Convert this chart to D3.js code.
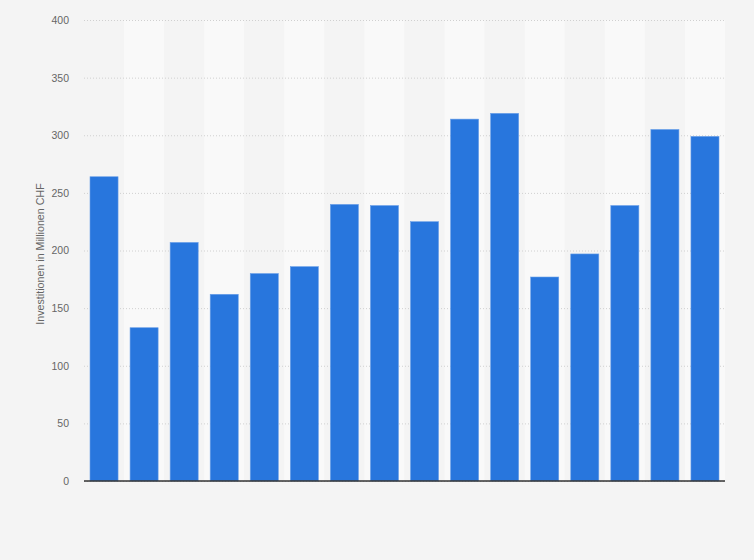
<!DOCTYPE html>
<html>
<head>
<meta charset="utf-8">
<script src="https://cdn.jsdelivr.net/npm/d3@7"></script>
<style>
    html, body { margin: 0; padding: 0; background: #f4f4f4; }
    text { font-family: "Liberation Sans", Arial, sans-serif; }
</style>
</head>
<body>
<svg id="chart" width="754" height="560"></svg>
<script>

    // Data
    var categories = ["1", "2", "3", "4", "5", "6", "7", "8", "9", "10", "11", "12", "13", "14", "15", "16"];
    var values = [264, 133, 207, 162, 180, 186, 240, 239, 225, 314, 319, 177, 197, 239, 305, 299];
    var yTicks = [0, 50, 100, 150, 200, 250, 300, 350, 400];
    var yTitle = "Investitionen in Millionen CHF";

    // Dimensions
    var width = 754;
    var height = 560;
    var margin = { top: 20, right: 29, bottom: 79, left: 84 };

    var svg = d3.select("#chart");

    svg.append("rect")
        .attr("width", width)
        .attr("height", height)
        .attr("fill", "#f4f4f4");

    var x = d3.scaleBand()
        .domain(categories)
        .range([margin.left, width - margin.right])
        .paddingInner(0.3)
        .paddingOuter(0.15);

    var y = d3.scaleLinear()
        .domain([0, 400])
        .range([height - margin.bottom, margin.top]);

    // Alternating column stripes
    svg.append("g")
        .attr("class", "stripes")
        .selectAll("rect")
        .data(categories)
        .enter()
        .append("rect")
        .attr("x", function(d) { return x(d) - x.step() * x.paddingOuter(); })
        .attr("y", y(400))
        .attr("width", x.step())
        .attr("height", y(0) - y(400))
        .attr("fill", function(d, i) {
            return i % 2 === 1 ? "#f9f9f9" : "#f4f4f4";
        });

    // Grid + tick labels
    var yAxis = svg.append("g")
        .attr("class", "y-axis")
        .attr("transform", "translate(" + margin.left + ",0)")
        .call(d3.axisLeft(y)
            .tickValues(yTicks)
            .tickSize(-(width - margin.left - margin.right))
            .tickPadding(15));

    yAxis.select(".domain").remove();
    yAxis.selectAll(".tick line")
        .attr("stroke", "#d0d0d0")
        .attr("stroke-dasharray", "1,2");
    yAxis.selectAll(".tick text")
        .attr("fill", "#666")
        .style("font-size", "10.5px");

    // Bars
    svg.append("g")
        .attr("class", "bars")
        .selectAll("rect")
        .data(values)
        .enter()
        .append("rect")
        .attr("x", function(d, i) { return x(categories[i]); })
        .attr("y", function(d) { return y(d); })
        .attr("width", x.bandwidth())
        .attr("height", function(d) { return y(0) - y(d); })
        .attr("fill", "#2876dd")
        .attr("stroke", "#6a9fe8")
        .attr("stroke-width", 0.6);

    // Baseline
    svg.append("line")
        .attr("x1", margin.left)
        .attr("x2", width - margin.right)
        .attr("y1", y(0))
        .attr("y2", y(0))
        .attr("stroke", "#333")
        .attr("stroke-width", 1.5);

    // Y title
    svg.append("text")
        .attr("transform", "translate(44," + 254 + ") rotate(-90)")
        .attr("text-anchor", "middle")
        .attr("fill", "#666")
        .style("font-size", "10.7px")
        .text(yTitle);

</script>
</body>
</html>
